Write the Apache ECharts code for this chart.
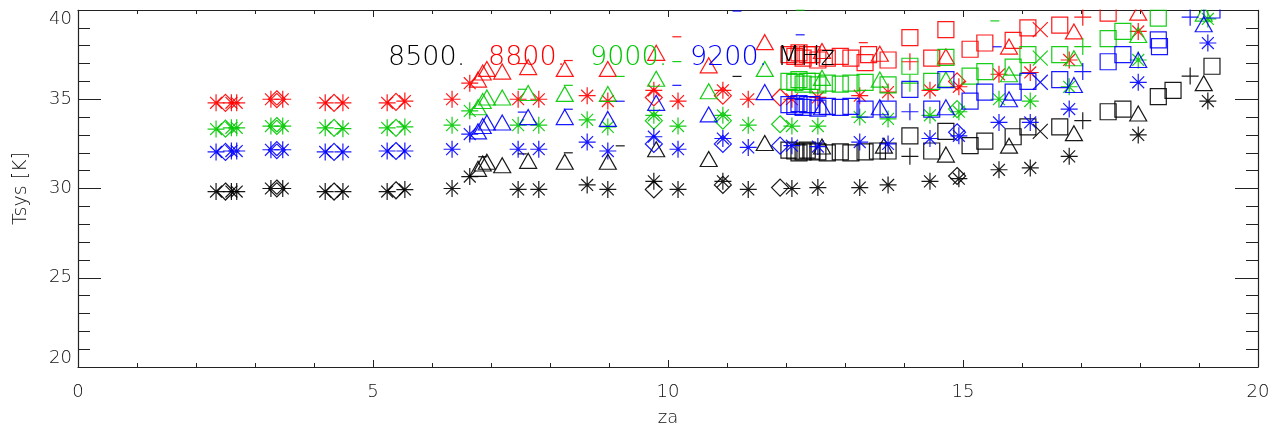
<!DOCTYPE html>
<html>
<head>
<meta charset="utf-8">
<script src="https://cdn.jsdelivr.net/npm/echarts@6/dist/echarts.min.js"></script>
<style>
html,body{margin:0;padding:0;background:#fff;}
#chart{width:1285px;height:432px;}
</style>
</head>
<body>
<div id="chart"></div>
<script>
// ---- data: [za, Tsys] ----
const xTicks = [0, 5, 10, 15, 20];
const yTicks = [20, 25, 30, 35, 40];
const freqLabels = ['8500.', '8800.', '9000.', '9200.', 'MHz'];

// asterisks
const blackAst = [[2.34,29.83],[2.6,29.83],[2.69,29.83],[3.27,30.0],[3.47,30.0],[4.19,29.83],[4.49,29.83],[5.24,29.83],[5.54,29.94],[6.34,30.0],[6.64,30.67],[7.46,29.95],[7.81,29.95],[8.63,30.2],[8.98,29.95],[9.76,30.4],[10.17,29.95],[10.93,30.4],[11.36,29.95],[12.10,30.0],[12.54,30.05],[13.25,30.05],[13.73,30.2],[14.44,30.4],[14.93,30.55],[15.61,31.05],[16.14,31.15],[16.80,31.8],[17.97,33.0],[19.15,34.9]];
const redAst = [[2.34,34.8],[2.6,34.8],[2.69,34.8],[3.27,35.0],[3.47,35.0],[4.19,34.8],[4.49,34.8],[5.24,34.8],[5.54,34.9],[6.34,35.0],[6.64,35.9],[7.46,35.0],[7.81,35.0],[8.63,35.2],[8.98,34.9],[9.76,35.5],[10.17,34.9],[10.93,35.5],[11.36,35.0],[12.10,35.0],[12.54,35.1],[13.25,35.2],[13.73,35.4],[14.44,35.5],[14.93,35.7],[15.61,36.4],[16.14,36.5],[16.80,37.2],[17.97,38.8]];
const greenAst = [[2.34,33.33],[2.6,33.4],[2.69,33.4],[3.27,33.5],[3.47,33.5],[4.19,33.4],[4.49,33.35],[5.24,33.4],[5.54,33.45],[6.34,33.55],[6.64,34.35],[7.46,33.55],[7.81,33.55],[8.63,33.85],[8.98,33.45],[9.76,34.1],[10.17,33.5],[10.93,34.1],[11.36,33.55],[12.10,33.5],[12.54,33.5],[13.25,34.0],[13.73,33.9],[14.44,34.1],[14.93,34.3],[15.61,35.0],[16.14,34.9],[16.80,35.7],[17.97,37.2],[19.15,39.5]];
const blueAst = [[2.34,32.05],[2.6,32.1],[2.69,32.1],[3.27,32.17],[3.47,32.17],[4.19,32.05],[4.49,32.05],[5.24,32.1],[5.54,32.1],[6.34,32.2],[6.64,33.05],[7.46,32.2],[7.81,32.2],[8.63,32.6],[8.98,32.1],[9.76,32.9],[10.17,32.2],[10.93,32.8],[11.36,32.3],[12.10,32.4],[12.54,32.35],[13.25,32.6],[13.73,32.5],[14.44,32.8],[14.93,32.95],[15.61,33.7],[16.14,33.7],[16.80,34.45],[17.97,35.95],[19.15,38.15]];

// diamonds
const blackDia = [[2.5,29.83],[3.37,30.0],[4.34,29.83],[5.39,29.9],[9.76,29.95],[10.93,30.2],[11.9,30.05],[14.9,30.7]];
const redDia = [[2.5,34.8],[3.37,35.0],[4.34,34.8],[5.39,34.85],[9.76,35.1],[10.93,35.2],[11.9,35.1],[14.9,36.0]];
const greenDia = [[2.5,33.35],[3.37,33.5],[4.34,33.4],[5.39,33.4],[9.76,33.8],[10.93,33.8],[11.9,33.6],[14.9,34.45]];
const blueDia = [[2.5,32.05],[3.37,32.15],[4.34,32.05],[5.39,32.1],[9.76,32.5],[10.93,32.5],[11.9,32.4],[14.9,33.15]];

// triangles
const blackTri = [[6.78,31.1],[6.86,31.4],[6.93,31.5],[7.19,31.3],[7.63,31.55],[8.25,31.5],[8.98,31.5],[9.80,32.2],[10.69,31.65],[11.64,32.55],[12.61,32.35],[13.66,32.4],[14.71,31.9],[15.78,32.4],[16.88,33.1],[17.97,34.2],[19.08,35.9]];
const redTri = [[6.78,36.1],[6.86,36.5],[6.93,36.7],[7.19,36.55],[7.63,36.8],[8.25,36.7],[8.98,36.7],[9.80,37.6],[10.69,36.9],[11.64,38.2],[12.61,37.7],[13.59,37.55],[14.71,37.4],[15.78,37.95],[16.88,38.8],[17.97,39.85]];
const greenTri = [[6.78,34.55],[6.86,34.9],[6.93,35.1],[7.19,35.1],[7.63,35.35],[8.25,35.3],[8.98,35.3],[9.80,36.15],[10.69,35.45],[11.64,36.7],[12.61,36.2],[13.59,36.1],[14.71,36.1],[15.78,36.4],[16.88,37.3],[17.97,38.6],[19.08,39.8]];
const blueTri = [[6.78,33.2],[6.86,33.5],[6.93,33.7],[7.19,33.7],[7.63,34.0],[8.25,34.0],[8.98,33.9],[9.80,34.8],[10.69,34.15],[11.64,35.4],[12.61,34.55],[13.59,34.55],[14.71,34.55],[15.78,35.0],[16.88,35.8],[17.97,37.2],[19.08,39.2]];

// squares
const blackSq = [[12.05,32.15],[12.15,32.1],[12.22,32.0],[12.29,32.05],[12.36,32.15],[12.44,32.1],[12.54,32.05],[12.7,32.0],[12.92,32.05],[13.1,32.0],[13.34,32.05],[13.55,32.1],[13.73,32.1],[14.1,32.95],[14.47,32.1],[14.71,33.2],[15.12,32.4],[15.37,32.65],[15.85,32.9],[16.1,33.45],[16.64,33.45],[17.46,34.3],[17.71,34.45],[18.31,35.15],[18.56,35.5],[19.22,36.85]];
const redSq = [[12.05,37.5],[12.15,37.4],[12.22,37.6],[12.29,37.3],[12.36,37.5],[12.44,37.5],[12.54,37.2],[12.7,37.3],[12.92,37.4],[13.1,37.3],[13.34,37.05],[13.4,37.5],[13.73,37.2],[14.1,38.45],[14.47,37.3],[14.71,38.9],[15.12,37.8],[15.37,38.15],[15.85,38.3],[16.1,39.0],[16.64,39.15],[17.46,39.83]];
const greenSq = [[12.05,36.0],[12.15,35.95],[12.22,36.1],[12.29,35.85],[12.36,36.0],[12.44,36.0],[12.54,35.8],[12.7,35.9],[12.92,35.85],[13.1,35.9],[13.34,35.95],[13.73,35.8],[14.1,36.85],[14.47,36.0],[14.71,37.35],[15.12,36.3],[15.37,36.55],[15.85,36.8],[16.1,37.5],[16.64,37.5],[17.46,38.4],[17.71,38.8],[18.31,39.55]];
const blueSq = [[12.05,34.7],[12.15,34.6],[12.22,34.75],[12.29,34.55],[12.36,34.7],[12.44,34.7],[12.54,34.5],[12.7,34.6],[12.92,34.55],[13.1,34.6],[13.34,34.45],[13.73,34.45],[14.1,35.55],[14.47,34.45],[14.71,36.1],[15.12,34.9],[15.37,35.4],[15.85,35.4],[16.1,36.0],[16.64,36.1],[17.46,37.1],[17.71,37.5],[18.31,38.33],[18.33,37.95],[19.22,40.0]];

// crosses (X)
const blackX = [[16.31,33.2]];
const redX = [[16.31,38.9]];
const greenX = [[16.31,37.3]];
const blueX = [[16.31,35.95]];

// plus
const blackPlus = [[14.10,31.8],[17.03,33.8],[18.85,36.3]];
const redPlus = [[14.10,37.1],[17.03,39.6]];
const greenPlus = [[14.10,35.9],[17.03,37.95]];
const bluePlus = [[14.10,34.3],[17.03,36.55],[18.85,39.6]];

// dashes
const blackDash = [[6.86,31.78],[7.53,31.94],[8.31,32.0],[9.19,32.39],[11.17,36.28]];
const redDash = [[7.53,37.0],[8.31,37.17],[10.15,38.5],[13.31,38.17]];
const greenDash = [[7.53,35.56],[8.31,35.78],[9.19,36.28],[10.15,37.11],[12.24,40.0],[15.54,39.39]];
const blueDash = [[7.53,34.28],[8.31,34.44],[9.19,34.89],[10.15,35.78],[11.17,39.94],[12.24,38.61],[15.58,37.94]];

// ---- styling ----
const COL = {black:'#000000', red:'#ff0000', green:'#00c800', blue:'#0000ff'};
const SYM = {
  ast:  {symbol:'path://M50 0L50 100M0 50L100 50M15 15L85 85M85 15L15 85', size:[17,17], fill:false},
  dia:  {symbol:'diamond', size:[17,17], fill:false},
  tri:  {symbol:'triangle', size:[17,15], fill:false},
  sq:   {symbol:'rect', size:[16,16], fill:false},
  x:    {symbol:'path://M0 0L100 100M100 0L0 100', size:[15,15], fill:false},
  plus: {symbol:'path://M50 0L50 100M0 50L100 50', size:[17,17], fill:false},
  dash: {symbol:'rect', size:[9,1.2], fill:true}
};
function mk(data, sym, colorName){
  const s = SYM[sym], c = COL[colorName];
  return {
    type:'scatter', data:data, symbol:s.symbol, symbolSize:s.size,
    xAxisIndex:0, yAxisIndex:0, silent:true, clip:true,
    itemStyle: s.fill ? {color:c, borderWidth:0, opacity:0.9}
                      : {color:'rgba(0,0,0,0)', borderColor:c, borderWidth:1.2, opacity:0.9}
  };
}
const series = [
  mk(blackAst,'ast','black'), mk(blackDia,'dia','black'), mk(blackTri,'tri','black'), mk(blackSq,'sq','black'), mk(blackX,'x','black'), mk(blackPlus,'plus','black'), mk(blackDash,'dash','black'),
  mk(redAst,'ast','red'), mk(redDia,'dia','red'), mk(redTri,'tri','red'), mk(redSq,'sq','red'), mk(redX,'x','red'), mk(redPlus,'plus','red'), mk(redDash,'dash','red'),
  mk(greenAst,'ast','green'), mk(greenDia,'dia','green'), mk(greenTri,'tri','green'), mk(greenSq,'sq','green'), mk(greenX,'x','green'), mk(greenPlus,'plus','green'), mk(greenDash,'dash','green'),
  mk(blueAst,'ast','blue'), mk(blueDia,'dia','blue'), mk(blueTri,'tri','blue'), mk(blueSq,'sq','blue'), mk(blueX,'x','blue'), mk(bluePlus,'plus','blue'), mk(blueDash,'dash','blue')
];

const FONT = '"DejaVu Sans", "Liberation Sans", sans-serif';
const AXC = '#222';
const TXC = '#111';
const labelColors = ['#000000', COL.red, COL.green, COL.blue, '#000000'];
const labelLefts = [388, 488, 590, 690, 777];

const chart = echarts.init(document.getElementById('chart'), null, {renderer:'canvas'});
const baseX = {
  type:'value', min:xTicks[0], max:xTicks[xTicks.length-1], interval:5,
  axisLine:{show:true, onZero:false, lineStyle:{color:AXC, width:1.2}},
  splitLine:{show:false},
  minorSplitLine:{show:false}
};
const baseY = {
  type:'value', min:yTicks[0], max:yTicks[yTicks.length-1], interval:5,
  axisLine:{show:true, onZero:false, lineStyle:{color:AXC, width:1.2}},
  splitLine:{show:false},
  minorSplitLine:{show:false}
};
chart.setOption({
  animation:false,
  backgroundColor:'#ffffff',
  grid:{left:78, right:27, top:10, bottom:62, containLabel:false},
  xAxis:[
    Object.assign({}, baseX, {
      position:'bottom', name:'za', nameLocation:'middle', nameGap:42,
      nameTextStyle:{fontFamily:FONT, fontSize:18, color:TXC, fontWeight:200},
      axisTick:{show:true, inside:true, length:7, lineStyle:{color:AXC}},
      minorTick:{show:true, splitNumber:5, length:4, lineStyle:{color:AXC}},
      axisLabel:{show:true, margin:16, fontFamily:FONT, fontSize:18, color:TXC, fontWeight:200}
    }),
    Object.assign({}, baseX, {
      position:'top',
      axisTick:{show:true, inside:true, length:7, lineStyle:{color:AXC}},
      minorTick:{show:true, splitNumber:5, length:4, lineStyle:{color:AXC}},
      axisLabel:{show:false}
    })
  ],
  yAxis:[
    Object.assign({}, baseY, {
      position:'left', name:'Tsys [K]', nameLocation:'middle', nameGap:47, nameRotate:90,
      nameTextStyle:{fontFamily:FONT, fontSize:19, color:TXC, fontWeight:200},
      axisTick:{show:true, inside:true, length:23, lineStyle:{color:AXC}},
      minorTick:{show:true, splitNumber:5, length:12, lineStyle:{color:AXC}},
      axisLabel:{show:true, margin:6, fontFamily:FONT, fontSize:18, color:TXC, fontWeight:200,
                 verticalAlignMaxLabel:'top', verticalAlignMinLabel:'bottom'}
    }),
    Object.assign({}, baseY, {
      position:'right',
      axisTick:{show:true, inside:true, length:23, lineStyle:{color:AXC}},
      minorTick:{show:true, splitNumber:5, length:12, lineStyle:{color:AXC}},
      axisLabel:{show:false}
    })
  ],
  graphic: freqLabels.map((t,i)=>({
    type:'text', left:labelLefts[i], top:44, z:100,
    style:{text:t, fill:labelColors[i], font:'200 27px ' + FONT}
  })).concat([
    {type:'rect', shape:{x:0, y:0, width:1285, height:9.4}, style:{fill:'#fff'}, z:99}
  ]),
  series: series
});
</script>
</body>
</html>
